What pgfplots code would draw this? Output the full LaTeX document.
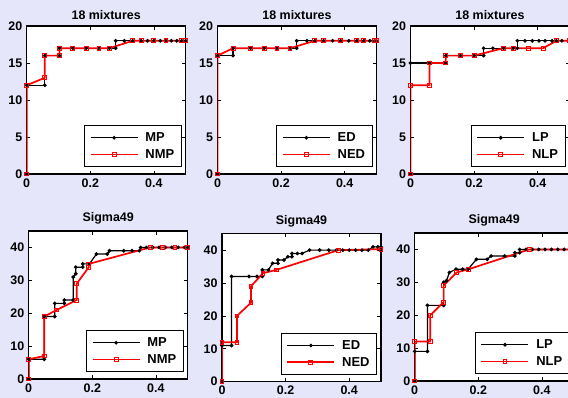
\documentclass[border=0pt]{standalone}
\usepackage{pgfplots}
\pgfplotsset{compat=1.18}
\usepackage{fontspec}
\setmainfont{Liberation Sans}
\definecolor{bg}{RGB}{230,230,250}
\pgfplotsset{
  myax/.style={
    scale only axis, width=159bp, height=148bp,
    xmin=0, xmax=0.5, ymin=0,
    axis background/.style={fill=white},
    axis line style={line width=1.1bp, black},
    tick align=inside, tick pos=both,
    major tick length=3.5bp,
    every tick/.style={black, line width=0.7bp},
    xtick={0,0.2,0.4}, xticklabels={0,0.2,0.4},
    /pgf/number format/assume math mode=true,
    tick label style={font=\bfseries\fontsize{12.5}{14}\selectfont},
    xticklabel style={yshift=-1bp},
    yticklabel style={xshift=-1bp},
    title style={font=\bfseries\fontsize{12.5}{14}\selectfont, yshift=-3bp},
    legend style={at={(rel axis cs:0.975,0.045)}, anchor=south east,
      line width=1bp, draw=black, fill=white, text=black,
      font=\bfseries\fontsize{13}{15}\selectfont,
      inner xsep=5bp, inner ysep=5bp, row sep=2.5bp, column sep=5bp},
    legend cell align=left,
    legend image code/.code={
      \draw[mark repeat=2,mark phase=2,##1] plot coordinates {(0bp,0bp) (23.5bp,0bp) (47bp,0bp)};
    },
  },
  blk/.style={color=black, line width=1.2bp, mark=*, mark size=1.2bp, mark options={solid, draw=black, fill=black}},
  rd/.style={color=red, draw=red, line width=1.7bp, mark=square, mark size=1.9bp, mark options={solid, draw=red, line width=0.9bp}},
}
\begin{document}
\begin{tikzpicture}
\useasboundingbox (0,0) rectangle (568bp,-398bp);
\clip (0,0) rectangle (568bp,-398bp);
\fill[bg] (0,0) rectangle (568bp,-398bp);

% ---- Panel 1
\begin{axis}[myax, at={(26.7bp,-26bp)}, anchor=north west, ymax=20,
  ytick={0,5,10,15,20}, title={18 mixtures}]
\addplot[blk] coordinates {(0,0)(0,12)(0.057,12)(0.057,16)(0.103,16)(0.103,17)(0.145,17)(0.187,17)(0.227,17)(0.26,17)(0.28,17)(0.28,18)(0.307,18)(0.333,18)(0.36,18)(0.38,18)(0.40,18)(0.42,18)(0.438,18)(0.455,18)(0.472,18)(0.487,18)(0.5,18)};
\addplot[rd] coordinates {(0,0)(0,12)(0.057,13)(0.057,16)(0.103,16)(0.103,17)(0.145,17)(0.187,17)(0.227,17)(0.26,17)(0.333,18)(0.36,18)(0.398,18)(0.438,18)(0.486,18)(0.5,18)};
\legend{MP,NMP}
\end{axis}

% ---- Panel 2
\begin{axis}[myax, at={(217.5bp,-26bp)}, anchor=north west, ymax=20,
  ytick={0,5,10,15,20}, title={18 mixtures}]
\addplot[blk] coordinates {(0,0)(0,16)(0.049,16)(0.049,17)(0.104,17)(0.147,17)(0.187,17)(0.228,17)(0.249,17)(0.249,18)(0.281,18)(0.306,18)(0.334,18)(0.362,18)(0.387,18)(0.413,18)(0.438,18)(0.46,18)(0.479,18)(0.494,18)(0.5,18)};
\addplot[rd] coordinates {(0,0)(0,16)(0.049,17)(0.104,17)(0.147,17)(0.187,17)(0.228,17)(0.306,18)(0.334,18)(0.387,18)(0.438,18)(0.46,18)(0.494,18)(0.5,18)};
\legend{ED,NED}
\end{axis}

% ---- Panel 3
\begin{axis}[myax, at={(410.5bp,-26bp)}, anchor=north west, ymax=20,
  ytick={0,5,10,15,20}, title={18 mixtures}]
\addplot[blk] coordinates {(0,0)(0,15)(0.062,15)(0.111,15)(0.111,16)(0.157,16)(0.2,16)(0.23,16)(0.23,17)(0.259,17)(0.293,17)(0.323,17)(0.336,17)(0.336,18)(0.36,18)(0.383,18)(0.404,18)(0.423,18)(0.445,18)(0.459,18)(0.476,18)(0.5,18)};
\addplot[rd] coordinates {(0,0)(0,12)(0.06,12)(0.06,15)(0.111,15)(0.111,16)(0.157,16)(0.2,16)(0.293,17)(0.323,17)(0.37,17)(0.417,17)(0.459,18)(0.5,18)};
\legend{LP,NLP}
\end{axis}

% ---- Panel 4
\begin{axis}[myax, at={(28.7bp,-231bp)}, anchor=north west, ymax=45,
  ytick={0,10,20,30,40}, title={Sigma49}]
\addplot[blk] coordinates {(0,0)(0,6)(0.049,6)(0.049,19)(0.082,19)(0.082,23)(0.112,23)(0.112,24)(0.14,24)(0.14,31)(0.148,32)(0.148,34)(0.17,34)(0.17,35)(0.191,35)(0.213,38)(0.247,38)(0.254,39)(0.299,39)(0.325,39)(0.348,39)(0.352,40)(0.37,40)(0.39,40)(0.41,40)(0.43,40)(0.45,40)(0.47,40)(0.49,40)(0.5,40)};
\addplot[rd] coordinates {(0,0)(0,6)(0.049,7)(0.049,19)(0.088,21)(0.151,24)(0.151,29)(0.189,34)(0.189,35)(0.382,40)(0.42,40)(0.46,40)(0.5,40)};
\legend{MP,NMP}
\end{axis}

% ---- Panel 5
\begin{axis}[myax, at={(222bp,-233.7bp)}, anchor=north west, ymax=45,
  ytick={0,10,20,30,40}, title={Sigma49}]
\addplot[blk] coordinates {(0,0)(0,11)(0.03,11)(0.03,32)(0.085,32)(0.11,32)(0.127,32)(0.127,34)(0.146,34)(0.159,36)(0.176,36)(0.176,37)(0.195,37)(0.207,38)(0.22,38)(0.22,39)(0.237,39)(0.252,39)(0.275,40)(0.307,40)(0.336,40)(0.36,40)(0.38,40)(0.40,40)(0.42,40)(0.44,40)(0.46,40)(0.475,41)(0.49,41)(0.5,41)};
\addplot[rd] coordinates {(0,0)(0,12)(0.047,12)(0.047,20)(0.091,24)(0.091,29)(0.129,33)(0.171,34)(0.366,40)(0.5,40.3)};
\legend{ED,NED}
\end{axis}

% ---- Panel 6
\begin{axis}[myax, at={(414.7bp,-233bp)}, anchor=north west, ymax=45,
  ytick={0,10,20,30,40}, title={Sigma49}]
\addplot[blk] coordinates {(0,0)(0,9)(0.04,9)(0.04,23)(0.091,23)(0.091,30)(0.1,30.5)(0.109,33)(0.13,34)(0.151,34)(0.168,34)(0.194,37)(0.228,37)(0.24,38)(0.283,38)(0.315,38)(0.315,39)(0.33,39)(0.33,40)(0.35,40)(0.37,40)(0.39,40)(0.41,40)(0.43,40)(0.45,40)(0.47,40)(0.49,40)};
\addplot[rd] coordinates {(0,0)(0,12)(0.049,12)(0.049,20)(0.091,24)(0.091,29)(0.132,33)(0.17,34)(0.36,40)(0.5,40)};
\legend{LP,NLP}
\end{axis}
\end{tikzpicture}
\end{document}
